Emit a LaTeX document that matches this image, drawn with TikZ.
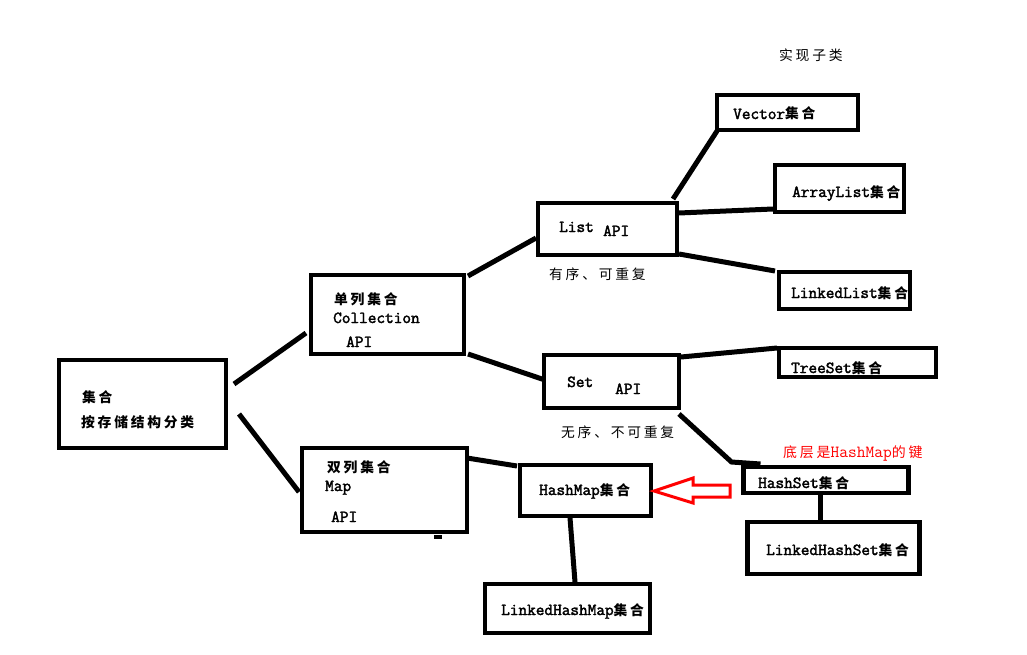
\documentclass[tikz,border=0pt]{standalone}
\usepackage{fontspec}
\setmainfont{Latin Modern Mono}[BoldFont={Latin Modern Mono}, BoldFeatures={FakeBold=2.2}]
\newfontfamily\cjkfont{Noto Sans CJK SC}[Scale=0.82,LetterSpace=20]
\newcommand\zh[1]{{\cjkfont #1}}
\usetikzlibrary{calc}
\begin{document}
\begin{tikzpicture}[x=1pt,y=-1pt,
  box/.style={draw, line width=4.5pt, rectangle, inner sep=0pt, outer sep=0pt},
  conn/.style={line width=5pt},
  txt/.style={anchor=base west, inner sep=0pt, font=\fontsize{16.8}{18}\selectfont\bfseries},
  lbl/.style={anchor=base west, inner sep=0pt, font=\fontsize{16.8}{18}\selectfont},
  redlbl/.style={anchor=base west, inner sep=0pt, text=red, font=\fontsize{17}{18}\selectfont}]
\useasboundingbox (0,0) rectangle (1027,655);
\fill[white] (0,0) rectangle (1027,655);

% boxes
\node[box, minimum width=167pt, minimum height=88pt] (root) at (142.5,404) {};
\node[box, minimum width=153pt, minimum height=79pt] (col) at (387.5,314.5) {};
\node[box, minimum width=165pt, minimum height=84pt] (map) at (384.5,490) {};
\node[box, minimum width=139pt, minimum height=52pt] (list) at (607.5,229) {};
\node[box, minimum width=135pt, minimum height=53pt] (set) at (611.5,381.5) {};
\node[box, minimum width=141pt, minimum height=35pt] (vector) at (787.5,112.5) {};
\node[box, minimum width=129pt, minimum height=47pt] (arraylist) at (839.5,188.5) {};
\node[box, minimum width=131pt, minimum height=37pt] (linkedlist) at (844.5,290.5) {};
\node[box, minimum width=157pt, minimum height=29pt] (treeset) at (857.5,362.5) {};
\node[box, minimum width=165pt, minimum height=26pt] (hashset) at (826,480) {};
\node[box, minimum width=172pt, minimum height=52pt] (lhs) at (833.5,548) {};
\node[box, minimum width=131pt, minimum height=51pt] (hashmap) at (585.5,490.5) {};
\node[box, minimum width=165pt, minimum height=49pt] (lhm) at (567.5,608.5) {};

% texts
\node[txt] (t1) at (82,402) {\zh{集合}};
\node[txt] (t2) at (81,427) {\zh{按存储结构分类}};
\node[txt] (t3) at (334,304) {\zh{单列集合}};
\node[txt] (t4) at (333,323) {Collection};
\node[txt] (t5) at (346,347) {API};
\node[txt] (t6) at (327,472) {\zh{双列集合}};
\node[txt] (t7) at (325,491) {Map};
\node[txt] (t8) at (331,522) {API};
\node[txt] (t9) at (559,232) {List};
\node[txt] (t10) at (603,236) {API};
\node[lbl] (t11) at (549,279) {\zh{有序、可重复}};
\node[txt] (t12) at (567,387) {Set};
\node[txt] (t13) at (615,394) {API};
\node[lbl] (t14) at (561,437) {\zh{无序、不可重复}};
\node[lbl] (t15) at (779,61) {\zh{实现子类}};
\node[txt] (t16) at (733,119) {Vector\zh{集合}};
\node[txt] (t17) at (792,197) {ArrayList\zh{集合}};
\node[txt] (t18) at (791,298) {LinkedList\zh{集合}};
\node[txt] (t19) at (791,373) {TreeSet\zh{集合}};
\node[txt] (t20) at (758,488) {HashSet\zh{集合}};
\node[txt] (t21) at (766,555) {LinkedHashSet\zh{集合}};
\node[txt] (t22) at (539,495) {HashMap\zh{集合}};
\node[txt] (t23) at (501,615) {LinkedHashMap\zh{集合}};
\node[redlbl] (t24) at (783,457) {\zh{底层是}HashMap\zh{的键}};

% connectors
\draw[conn] ($(root.north east)+(8,24)$) -- ($(col.south west)+(-5,-21)$);
\draw[conn] ($(root.north east)+(13,54)$) -- ($(map.north west)+(-3,44)$);
\draw[conn] ($(col.north east)+(4,1)$) -- ($(list.north west)+(-2,35)$);
\draw[conn] ($(col.south east)+(4,0)$) -- ($(set.north west)+(1,25)$);
\draw[conn] ($(map.north east)+(0,10)$) -- ($(hashmap.north west)+(-3,1)$);
\draw[conn] ($(list.north east)+(-4,-4)$) -- ($(vector.south west)+(0,1)$);
\draw[conn] ($(list.north east)+(2,10)$) -- ($(arraylist.south west)+(-2,-3)$);
\draw[conn] ($(list.south east)+(2,-1)$) -- ($(linkedlist.north west)+(-4,-1)$);
\draw[conn] ($(set.north east)+(2,2)$) -- ($(treeset.north west)+(-2,0)$);
\draw[conn] ($(set.south east)+(0,6)$) -- ($(hashset.north west)+(-12,-5)$) -- ($(hashset.north west)+(17,-3)$);
\draw[conn] ($(hashset.south)+(-6,0)$) -- ($(lhs.north)+(-13.5,0)$);
\draw[conn] ($(hashmap.south)+(-15.5,2)$) -- ($(lhm.north)+(7.5,-2)$);

% red hollow arrow
\draw[red, line width=3pt, line join=miter] (654,491) -- (693,478) -- (693,485) -- (730,485) -- (730,497) -- (693,497) -- (693,503) -- cycle;

% small mark
\fill (434,535) rectangle (442,539);
\end{tikzpicture}
\end{document}
